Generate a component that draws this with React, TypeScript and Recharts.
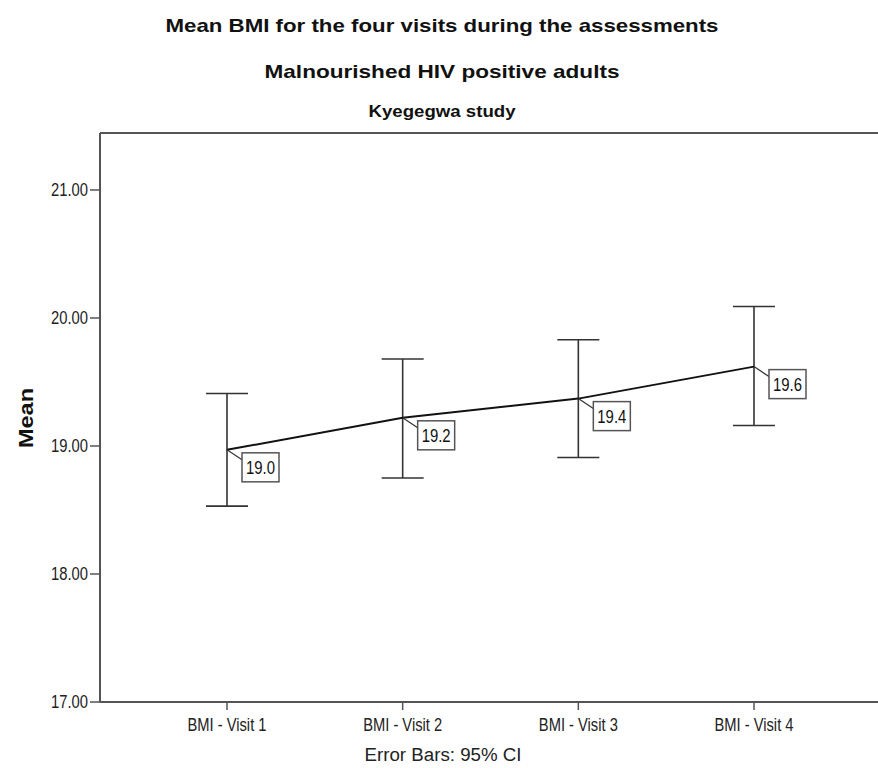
import React from "react";
import {
  LineChart,
  Line,
  XAxis,
  YAxis,
  ErrorBar,
  LabelList,
  ReferenceLine,
} from "recharts";

const visits = ["BMI - Visit 1", "BMI - Visit 2", "BMI - Visit 3", "BMI - Visit 4"];
const means = [18.97, 19.22, 19.37, 19.62];
const ciLower = [18.53, 18.75, 18.91, 19.16];
const ciUpper = [19.41, 19.68, 19.83, 20.09];
const yTicks = [17, 18, 19, 20, 21];

const Y_MIN = 17;
const Y_MAX = 21.445;
const FONT = '"Liberation Sans", Arial, sans-serif';
const AXIS = "#555";

const data = visits.map((name, i) => ({
  name,
  mean: means[i],
  ci: [means[i] - ciLower[i], ciUpper[i] - means[i]],
}));

const YTick = ({ x, y, payload }: any) => (
  <text
    x={x}
    y={y}
    dy={6}
    textAnchor="end"
    fontSize={18}
    fontFamily={FONT}
    fill="#222"
    textLength={37}
    lengthAdjust="spacingAndGlyphs"
  >
    {Number(payload.value).toFixed(2)}
  </text>
);

const XTick = ({ x, y, payload }: any) => (
  <text
    x={x}
    y={y}
    dy={19}
    textAnchor="middle"
    fontSize={18}
    fontFamily={FONT}
    fill="#222"
    textLength={79}
    lengthAdjust="spacingAndGlyphs"
  >
    {payload.value}
  </text>
);

// SPSS style boxed value label with a little leader line
const ValueBox = ({ x, y, value }: any) => {
  if (x == null || y == null) return null;
  return (
    <g>
      <line x1={x} y1={y} x2={x + 15} y2={y + 10} stroke="#333" strokeWidth={1.2} />
      <rect x={x + 15} y={y + 3} width={37} height={29} fill="#fff" stroke="#555" strokeWidth={1.5} />
      <text
        x={x + 33.5}
        y={y + 24}
        textAnchor="middle"
        fontSize={19}
        fontFamily={FONT}
        fill="#111"
        textLength={29}
        lengthAdjust="spacingAndGlyphs"
      >
        {Number(value).toFixed(1)}
      </text>
    </g>
  );
};

export default function App() {
  return (
    <div
      style={{
        position: "absolute",
        left: 0,
        top: 0,
        width: 878,
        height: 768,
        overflow: "hidden",
        background: "#fff",
      }}
    >
      <LineChart
        width={900}
        height={768}
        data={data}
        margin={{ top: 133, right: 20, bottom: 0, left: 0 }}
      >
        <XAxis
          dataKey="name"
          height={66}
          padding={{ left: 127, right: 126 }}
          tickSize={8}
          tickLine={{ stroke: AXIS, strokeWidth: 1.5 }}
          axisLine={{ stroke: AXIS, strokeWidth: 2 }}
          tick={<XTick />}
          interval={0}
        />
        <YAxis
          type="number"
          width={100}
          domain={[Y_MIN, Y_MAX]}
          ticks={yTicks}
          allowDataOverflow
          tickSize={10}
          tickMargin={2}
          tickLine={{ stroke: AXIS, strokeWidth: 1.5 }}
          axisLine={{ stroke: AXIS, strokeWidth: 2 }}
          tick={<YTick />}
        />
        <ReferenceLine y={Y_MAX} stroke={AXIS} strokeWidth={2} />
        <Line
          dataKey="mean"
          stroke="#111"
          strokeWidth={2}
          dot={false}
          activeDot={false}
          isAnimationActive={false}
        >
          <ErrorBar dataKey="ci" direction="y" width={21} stroke="#333" strokeWidth={1.6} />
          <LabelList dataKey="mean" content={<ValueBox />} />
        </Line>
      </LineChart>
      <svg
        width={878}
        height={768}
        style={{ position: "absolute", left: 0, top: 0, pointerEvents: "none" }}
      >
        <g fontFamily={FONT} fontWeight="bold" fill="#111" textAnchor="middle">
          <text x={442} y={32} fontSize={19} textLength={553} lengthAdjust="spacingAndGlyphs">
            Mean BMI for the four visits during the assessments
          </text>
          <text x={442} y={78} fontSize={19} textLength={355} lengthAdjust="spacingAndGlyphs">
            Malnourished HIV positive adults
          </text>
          <text x={442} y={117} fontSize={17} textLength={147} lengthAdjust="spacingAndGlyphs">
            Kyegegwa study
          </text>
          <text
            transform="translate(33 418) rotate(-90)"
            x={0}
            y={0}
            fontSize={20}
            textLength={60}
            lengthAdjust="spacingAndGlyphs"
          >
            Mean
          </text>
        </g>
        <text
          x={443}
          y={761}
          fontFamily={FONT}
          fontSize={18}
          fill="#222"
          textAnchor="middle"
          textLength={157}
          lengthAdjust="spacingAndGlyphs"
        >
          Error Bars: 95% CI
        </text>
      </svg>
    </div>
  );
}
